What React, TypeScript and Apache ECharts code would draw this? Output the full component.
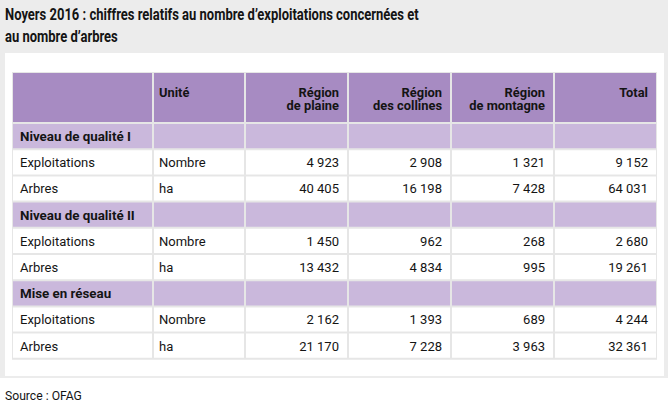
import React, { useEffect, useRef } from "react";
import * as echarts from "echarts";

const titleLines = [
  "Noyers 2016 : chiffres relatifs au nombre d’exploitations concernées et",
  "au nombre d’arbres",
];
const sourceText = "Source : OFAG";
const headers = ["", "Unité", "Région\nde plaine", "Région\ndes collines", "Région\nde montagne", "Total"];
const groups = ["Niveau de qualité I", "Niveau de qualité II", "Mise en réseau"];
const rowLabels = ["Exploitations", "Arbres"];
const units = ["Nombre", "ha"];
const plaine = [4923, 40405, 1450, 13432, 2162, 21170];
const collines = [2908, 16198, 962, 4834, 1393, 7228];
const montagne = [1321, 7428, 268, 995, 689, 3963];
const total = [9152, 64031, 2680, 19261, 4244, 32361];

const FONT = "Roboto";
const TEXT = "#141414";
const HEAD = "#a78bc2";
const GROUP = "#cab8dc";
const LINE = "#e6e6e6";

const colWidths = [141, 92, 103, 103, 103, 103];
const headerH = 51;
const rowH = 26.2;

function fmt(n: number): string {
  return String(n).replace(/\B(?=(\d{3})+(?!\d))/g, " ");
}

function measure(text: string, font: string): number {
  const ctx = document.createElement("canvas").getContext("2d");
  if (!ctx) return 1;
  ctx.font = font;
  return ctx.measureText(text).width || 1;
}

type Cell = { text: string; kind: "head" | "group" | "body"; align: "left" | "right" };

export default function App() {
  const ref = useRef<HTMLDivElement>(null);
  useEffect(() => {
    document.body.style.margin = "0";
    if (!ref.current) return;
    const chart = echarts.init(ref.current, undefined, { renderer: "svg" });

    // horizontal condensing factors to mimic the narrow typeface of the reference
    const titleScale = 414 / measure(titleLines[0], `bold 16px ${FONT}`);
    const bodyScale = 75 / measure(rowLabels[0], `13px ${FONT}`);
    const groupScale = 111 / measure(groups[0], `bold 13px ${FONT}`);
    const headScale = 69 / measure(headers[3].split("\n")[1], `bold 12.5px ${FONT}`);
    const sourceScale = 77 / measure(sourceText, `13px ${FONT}`);

    const colX: number[] = [0];
    colWidths.forEach((w, i) => colX.push(colX[i] + w));
    const totalW = colX[colX.length - 1];

    const cells: Cell[] = [];
    const data: number[][] = [];
    const addCell = (c: number, y0: number, y1: number, cell: Cell) => {
      cells.push(cell);
      data.push([colX[c], colX[c + 1], y0, y1, cells.length - 1]);
    };

    headers.forEach((h, c) =>
      addCell(c, 0, headerH, { text: h, kind: "head", align: c <= 1 ? "left" : "right" })
    );
    const valueCols = [plaine, collines, montagne, total];
    let y = headerH;
    groups.forEach((g, gi) => {
      for (let c = 0; c < headers.length; c++) {
        addCell(c, y, y + rowH, { text: c === 0 ? g : "", kind: "group", align: "left" });
      }
      y += rowH;
      rowLabels.forEach((lab, ri) => {
        const k = gi * rowLabels.length + ri;
        addCell(0, y, y + rowH, { text: lab, kind: "body", align: "left" });
        addCell(1, y, y + rowH, { text: units[ri], kind: "body", align: "left" });
        valueCols.forEach((arr, vi) =>
          addCell(2 + vi, y, y + rowH, { text: fmt(arr[k]), kind: "body", align: "right" })
        );
        y += rowH;
      });
    });
    const totalH = y;

    chart.setOption({
      animation: false,
      backgroundColor: "#ffffff",
      graphic: [
        { type: "rect", z: -10, shape: { x: 0, y: 0, width: 668, height: 378 }, style: { fill: "#ececec" } },
        { type: "rect", z: -9, shape: { x: 5, y: 53, width: 659, height: 323 }, style: { fill: "#ffffff" } },
        { type: "rect", z: -8, shape: { x: 12, y: 72, width: totalW, height: totalH + 1 }, style: { fill: LINE } },
        ...titleLines.map((t, i) => ({
          type: "text",
          x: 5,
          y: 14.5 + i * 22,
          scaleX: titleScale,
          style: {
            text: t,
            x: 0,
            y: 0,
            verticalAlign: "middle",
            fontFamily: FONT,
            fontSize: 16,
            fontWeight: "bold",
            fill: TEXT,
          },
        })),
        {
          type: "text",
          x: 5,
          y: 395,
          scaleX: sourceScale,
          style: {
            text: sourceText,
            x: 0,
            y: 0,
            verticalAlign: "middle",
            fontFamily: FONT,
            fontSize: 13,
            fill: TEXT,
          },
        },
      ],
      grid: { left: 12, top: 72, width: totalW, height: totalH, containLabel: false },
      xAxis: { type: "value", min: 0, max: totalW, show: false },
      yAxis: { type: "value", min: 0, max: totalH, inverse: true, show: false },
      series: [
        {
          type: "custom",
          clip: false,
          silent: true,
          data,
          encode: { x: [0, 1], y: [2, 3] },
          renderItem: (params: any, api: any) => {
            const cell = cells[api.value(4)];
            const a = api.coord([api.value(0), api.value(2)]);
            const b = api.coord([api.value(1), api.value(3)]);
            const x = a[0] + 1;
            const yy = a[1] + 1;
            const w = b[0] - a[0] - 2;
            const h = b[1] - a[1] - 2;
            const fill = cell.kind === "head" ? HEAD : cell.kind === "group" ? GROUP : "#ffffff";
            const isHead = cell.kind === "head";
            const scale = isHead ? headScale : cell.kind === "group" ? groupScale : bodyScale;
            const tx = cell.align === "right" ? x + w - 8 : x + (a[0] < 20 ? 7 : 5);
            return {
              type: "group",
              children: [
                { type: "rect", shape: { x, y: yy, width: w, height: h }, style: { fill } },
                {
                  type: "text",
                  x: tx,
                  y: isHead ? yy + 13 : yy + h / 2 + 0.5,
                  scaleX: scale,
                  style: {
                    text: cell.text,
                    x: 0,
                    y: 0,
                    align: cell.align,
                    verticalAlign: isHead ? "top" : "middle",
                    fontFamily: FONT,
                    fontSize: isHead ? 12.5 : 13,
                    fontWeight: cell.kind === "body" ? "normal" : "bold",
                    lineHeight: 13,
                    fill: TEXT,
                  },
                },
              ],
            };
          },
        },
      ],
    });
    return () => chart.dispose();
  }, []);
  return <div ref={ref} style={{ width: 668, height: 407 }} />;
}
